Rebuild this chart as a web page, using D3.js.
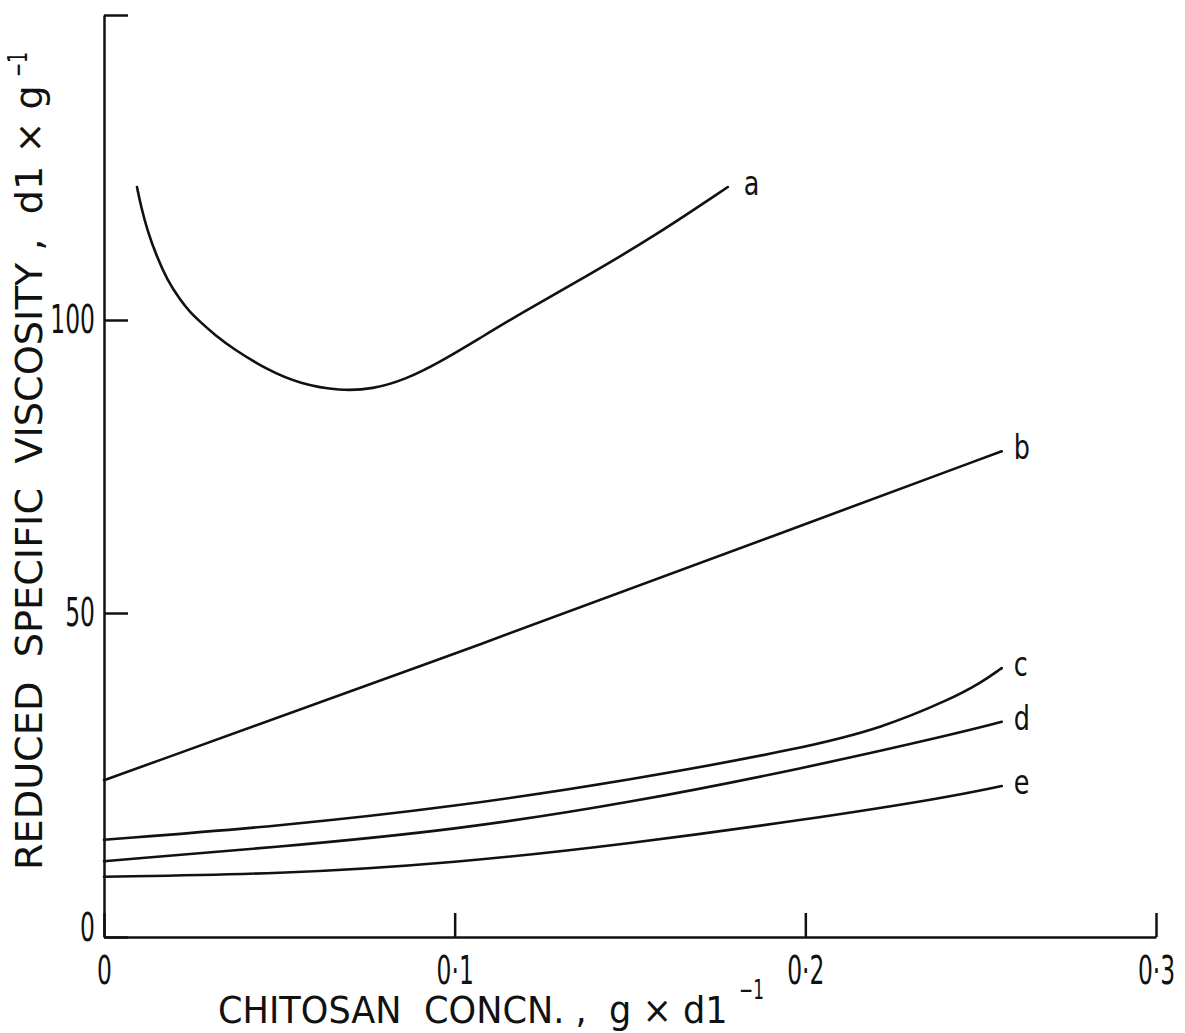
<!DOCTYPE html>
<html>
<head>
<meta charset="utf-8">
<script src="https://cdn.jsdelivr.net/npm/d3@7"></script>
<style>
  body { margin: 0; background: #fff; }
  svg { display: block; }
  text { font-family: "DejaVu Sans", sans-serif; fill: #111; white-space: pre; }
</style>
</head>
<body>
<svg width="1185" height="1033"></svg>
<script>
// значения (концентрация, г/дл -> приведённая вязкость)
const concA = [0.0094, 0.0106, 0.0123, 0.0151, 0.0180, 0.0217, 0.0245, 0.0274, 0.0317, 0.0368,
               0.0465, 0.0559, 0.0673, 0.0767, 0.0858, 0.0958, 0.1072, 0.1186, 0.1377, 0.1566, 0.1779];
const viscA = [121.8, 118.5, 114.8, 110.3, 106.6, 103.3, 101.3, 99.7, 97.4, 95.1,
               91.5, 89.1, 87.9, 88.2, 89.8, 92.8, 96.9, 101.0, 107.2, 113.6, 121.8];

const concB = [0, 0.111, 0.2, 0.256];
const viscB = [24.2, 45.8, 65.2, 77.6];

const concC = [0, 0.05, 0.1, 0.15, 0.2, 0.222, 0.241, 0.25, 0.256];
const viscC = [15.0, 17.1, 20.1, 24.2, 29.2, 32.3, 36.6, 39.2, 41.5];

// общие точки по оси X для кривых d, e
const concDE = [0, 0.05, 0.1, 0.15, 0.2, 0.24, 0.256];
const viscD = [11.7, 13.9, 16.5, 20.7, 26.1, 31.0, 33.2];
const viscE = [9.3, 9.7, 11.4, 14.4, 18.1, 21.5, 23.3];

const curveKeys = ["a", "b", "c", "d", "e"];

const xTicks = [0, 0.1, 0.2, 0.3];
const xTickLabels = ["0", "0·1", "0·2", "0·3"];
const yTicks = [0, 50, 100, 150];
const yTickLabels = ["0", "50", "100", ""];

const xTitle = "CHITOSAN  CONCN. ,  g × d1";
const yTitle = "REDUCED  SPECIFIC  VISCOSITY ,  d1 × g";
const titleSup = "−1";

const series = [
  {key: curveKeys[0], pts: d3.zip(concA, viscA)},
  {key: curveKeys[1], pts: d3.zip(concB, viscB)},
  {key: curveKeys[2], pts: d3.zip(concC, viscC)},
  {key: curveKeys[3], pts: d3.zip(concDE, viscD)},
  {key: curveKeys[4], pts: d3.zip(concDE, viscE)}
];

const svg = d3.select("svg");
const ink = "#111";

// сжимаем текст по ширине (на оригинале узкий плоттерный шрифт)
function condense(sel, k) {
  sel.each(function() {
    const t = d3.select(this);
    const x = parseFloat(t.attr("x")) || 0;
    const tr = t.attr("transform") || "";
    t.attr("x", x / k).attr("transform", `${tr} scale(${k}, 1)`);
  });
}

// текст заданной длины, начиная с точки (x, y), с поворотом
function fitText(str, x, y, size, len, rot) {
  const t = svg.append("text")
    .style("font-size", size + "px")
    .text(str);
  const k = len / t.node().getComputedTextLength();
  t.attr("transform", `translate(${x}, ${y}) rotate(${rot}) scale(${k}, 1)`);
  return t;
}

const scX = d3.scaleLinear().domain([0, 0.3]).range([104, 1156]);
// шкала на скане чуть неравномерная, поэтому кусочно-линейная
const scY = d3.scaleLinear().domain(yTicks).range([937, 613, 320, 15]);

const gx = svg.append("g")
  .attr("transform", `translate(0, ${scY(0)})`)
  .call(d3.axisBottom(scX)
    .tickValues(xTicks)
    .tickSize(-24)
    .tickSizeOuter(0)
    .tickPadding(19)
    .tickFormat((d, i) => xTickLabels[i]));

const gy = svg.append("g")
  .attr("transform", `translate(${scX(0)}, 0)`)
  .call(d3.axisLeft(scY)
    .tickValues(yTicks)
    .tickSize(-24)
    .tickSizeOuter(0)
    .tickPadding(9)
    .tickFormat((d, i) => yTickLabels[i]));

[gx, gy].forEach(g => {
  g.attr("font-family", null).attr("font-size", null).attr("color", ink);
  g.selectAll("path, line").attr("stroke-width", 2.5).attr("stroke", ink);
  g.selectAll("text").style("font-size", "39px");
  condense(g.selectAll("text"), 0.6);
});
// ноль на оси Y на оригинале чуть выше
gy.selectAll("text").filter(d => d === 0).attr("dy", "0.08em");

// кривые
const line = d3.line()
  .x(d => scX(d[0]))
  .y(d => scY(d[1]))
  .curve(d3.curveBasis);

svg.selectAll(".curve")
  .data(series)
  .enter()
  .append("path")
  .attr("class", "curve")
  .attr("d", d => line(d.pts))
  .attr("fill", "none")
  .attr("stroke", ink)
  .attr("stroke-width", 2.6)
  .attr("stroke-linecap", "round");

const lbl = svg.selectAll(".lbl")
  .data(series)
  .enter()
  .append("text")
  .attr("class", "lbl")
  .attr("x", d => scX(d.pts[d.pts.length - 1][0]) + (d.key === "a" ? 16 : 12))
  .attr("y", d => scY(d.pts[d.pts.length - 1][1]) + 8)
  .style("font-size", "34px")
  .text(d => d.key);
condense(lbl, 0.75);

// подписи осей
fitText(xTitle, 218, 1023, 38, 510, 0);
fitText(titleSup, 739, 999, 27, 25, 0);

const yLen = 785;
fitText(yTitle, 42, 870, 38, yLen, -90);
fitText(titleSup, 27, 870 - yLen - 8, 27, 25, -90);
</script>
</body>
</html>
